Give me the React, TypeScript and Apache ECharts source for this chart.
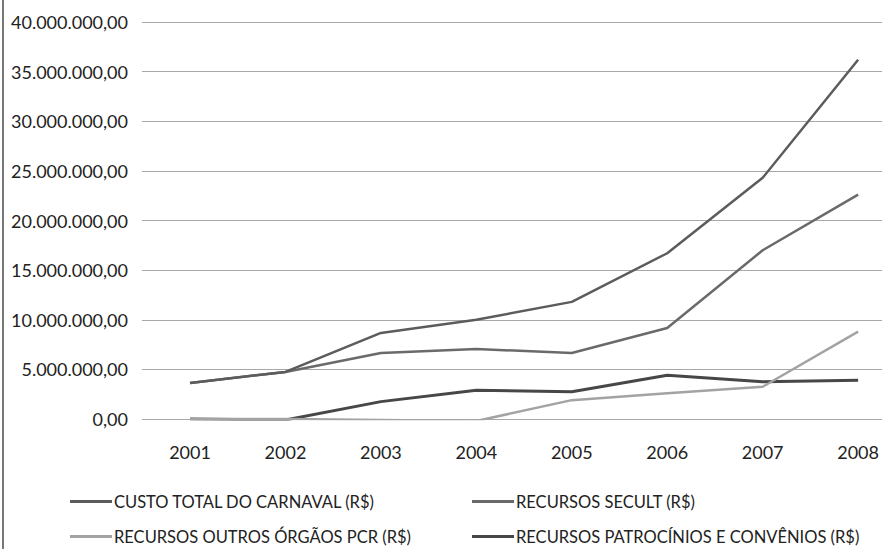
import React, { useEffect, useRef } from "react";
import * as echarts from "echarts";

const years = ["2001", "2002", "2003", "2004", "2005", "2006", "2007", "2008"];
const custoTotal = [3630000, 4740000, 8670000, 10000000, 11800000, 16700000, 24300000, 36200000];
const recursosSecult = [3630000, 4740000, 6650000, 7050000, 6650000, 9170000, 17000000, 22600000];
const recursosOutros = [0, 0, -100000, -200000, 1900000, 2600000, 3250000, 8800000];
const recursosPatrocinios = [0, -100000, 1750000, 2900000, 2750000, 4400000, 3750000, 3900000];
const yTicks = [0, 5000000, 10000000, 15000000, 20000000, 25000000, 30000000, 35000000, 40000000];

const names = [
  "CUSTO TOTAL DO CARNAVAL (R$)",
  "RECURSOS SECULT (R$)",
  "RECURSOS OUTROS ÓRGÃOS PCR (R$)",
  "RECURSOS PATROCÍNIOS E CONVÊNIOS (R$)",
];

function fmt(v: number): string {
  const s = Math.round(Math.abs(v)).toString();
  const parts: string[] = [];
  for (let i = s.length; i > 0; i -= 3) parts.unshift(s.slice(Math.max(0, i - 3), i));
  return (v < 0 ? "-" : "") + parts.join(".") + ",00";
}

export default function App() {
  const ref = useRef<HTMLDivElement>(null);
  useEffect(() => {
    if (!ref.current) return;
    const chart = echarts.init(ref.current, undefined, { renderer: "svg" });
    const font = "Lato";
    const colors = ["#5c5c5c", "#6a6a6a", "#a3a3a3", "#474747"];
    const widths = [2.5, 2.5, 2.5, 3];
    const data = [custoTotal, recursosSecult, recursosOutros, recursosPatrocinios];
    const legendPos = [
      { left: 70, top: 493 },
      { left: 472, top: 493 },
      { left: 70, top: 528 },
      { left: 472, top: 528 },
    ];
    const yMin = yTicks[0];
    const yMax = yTicks[yTicks.length - 1];
    chart.setOption({
      animation: false,
      backgroundColor: "#ffffff",
      grid: [
        { left: 142, top: 22, right: 0, height: 397, containLabel: false },
        { left: 190, top: 22, right: 22, height: 397, containLabel: false },
      ],
      legend: names.map((n, i) => ({
        data: [n],
        left: legendPos[i].left,
        top: legendPos[i].top,
        icon: "rect",
        itemWidth: 42,
        itemHeight: 3,
        itemGap: 0,
        padding: 0,
        textStyle: { fontFamily: font, fontSize: 16.5, color: "#222", padding: [0, 0, 0, -3] },
      })),
      xAxis: [
        { type: "value", gridIndex: 0, show: false, min: 0, max: 1 },
        {
          type: "category",
          gridIndex: 1,
          data: years,
          boundaryGap: false,
          axisLine: { show: false },
          axisTick: { show: false },
          axisLabel: { fontFamily: font, fontSize: 18, color: "#222", margin: 24 },
          splitLine: { show: false },
        },
      ],
      yAxis: [
        {
          type: "value",
          gridIndex: 0,
          min: yMin,
          max: yMax,
          interval: 5000000,
          axisLine: { show: false },
          axisTick: { show: false },
          axisLabel: {
            fontFamily: font,
            fontSize: 18,
            color: "#222",
            margin: 14,
            formatter: (v: number) => fmt(v),
          },
          splitLine: { show: true, lineStyle: { color: "#a8a8a8", width: 1 } },
        },
        {
          type: "value",
          gridIndex: 1,
          min: yMin,
          max: yMax,
          interval: 5000000,
          show: false,
          splitLine: { show: false },
        },
      ],
      series: names.map((n, i) => ({
        name: n,
        type: "line",
        xAxisIndex: 1,
        yAxisIndex: 1,
        data: data[i],
        symbol: "none",
        showSymbol: false,
        itemStyle: { color: colors[i] },
        lineStyle: { color: colors[i], width: widths[i] },
        z: 10 - i,
      })),
      graphic: [
        { type: "rect", left: 2, top: 0, shape: { width: 2, height: 549 }, style: { fill: "#777" } },
      ],
    });
    return () => chart.dispose();
  }, []);
  return <div ref={ref} style={{ position: "fixed", left: 0, top: 0, width: 882, height: 549 }} />;
}
